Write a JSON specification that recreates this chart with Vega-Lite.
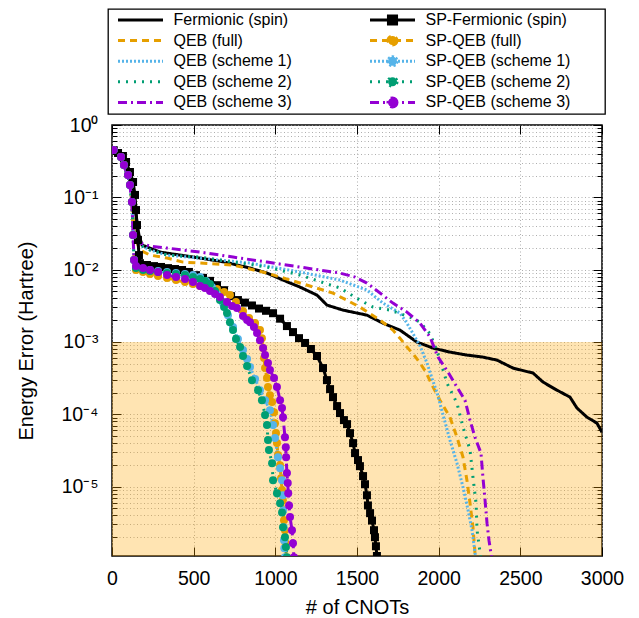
{
 "$schema": "https://vega.github.io/schema/vega-lite/v6.json",
 "width": 490, "height": 431,
 "autosize": {"type": "none"},
 "padding": {"left": 112, "top": 125, "right": 37, "bottom": 62},
 "background": "white",
 "config": {
  "font": "Liberation Sans",
  "view": {"stroke": "black", "strokeWidth": 1.5},
  "axis": {"domain": false, "labelFont": "Liberation Sans", "labelFontSize": 19.5, "labelColor": "black", "titleFont": "Liberation Sans", "titleFontSize": 20, "titleFontWeight": "normal", "titleColor": "black", "tickColor": "black", "tickWidth": 1, "gridColor": "#9a9a9a", "gridDash": [1, 2.5], "gridWidth": 0.8, "gridOpacity": 1, "labelFlush": false, "labelOverlap": false}
 },
 "datasets": {
  "curves": [
   {"s":"Fermionic (spin)","x":10,"y":0.45},{"s":"Fermionic (spin)","x":49,"y":0.35},{"s":"Fermionic (spin)","x":98,"y":0.203},{"s":"Fermionic (spin)","x":129,"y":0.126},{"s":"Fermionic (spin)","x":147,"y":0.0569},{"s":"Fermionic (spin)","x":165,"y":0.0301},{"s":"Fermionic (spin)","x":184,"y":0.0219},{"s":"Fermionic (spin)","x":294,"y":0.0175},{"s":"Fermionic (spin)","x":539,"y":0.01446},{"s":"Fermionic (spin)","x":692,"y":0.01273},{"s":"Fermionic (spin)","x":845,"y":0.01052},{"s":"Fermionic (spin)","x":949,"y":0.00897},{"s":"Fermionic (spin)","x":1047,"y":0.00718},{"s":"Fermionic (spin)","x":1151,"y":0.00574},{"s":"Fermionic (spin)","x":1255,"y":0.00445},{"s":"Fermionic (spin)","x":1316,"y":0.00324},{"s":"Fermionic (spin)","x":1414,"y":0.00276},{"s":"Fermionic (spin)","x":1561,"y":0.00235},{"s":"Fermionic (spin)","x":1659,"y":0.00182},{"s":"Fermionic (spin)","x":1763,"y":0.00146},{"s":"Fermionic (spin)","x":1867,"y":0.000997},{"s":"Fermionic (spin)","x":1965,"y":0.000824},{"s":"Fermionic (spin)","x":2069,"y":0.000725},{"s":"Fermionic (spin)","x":2173,"y":0.000659},{"s":"Fermionic (spin)","x":2271,"y":0.000618},{"s":"Fermionic (spin)","x":2357,"y":0.000562},{"s":"Fermionic (spin)","x":2455,"y":0.000436},{"s":"Fermionic (spin)","x":2578,"y":0.000372},{"s":"Fermionic (spin)","x":2639,"y":0.000279},{"s":"Fermionic (spin)","x":2724,"y":0.000216},{"s":"Fermionic (spin)","x":2804,"y":0.000173},{"s":"Fermionic (spin)","x":2847,"y":0.000122},{"s":"Fermionic (spin)","x":2908,"y":0.0000914},{"s":"Fermionic (spin)","x":2969,"y":0.0000755},{"s":"Fermionic (spin)","x":3000,"y":0.0000567},

   {"s":"QEB (full)","x":10,"y":0.45},{"s":"QEB (full)","x":55,"y":0.36},{"s":"QEB (full)","x":80,"y":0.254},{"s":"QEB (full)","x":104,"y":0.173},{"s":"QEB (full)","x":122,"y":0.092},{"s":"QEB (full)","x":135,"y":0.0414},{"s":"QEB (full)","x":147,"y":0.0257},{"s":"QEB (full)","x":171,"y":0.0187},{"s":"QEB (full)","x":233,"y":0.0159},{"s":"QEB (full)","x":337,"y":0.01446},{"s":"QEB (full)","x":435,"y":0.01273},{"s":"QEB (full)","x":539,"y":0.01233},{"s":"QEB (full)","x":741,"y":0.01158},{"s":"QEB (full)","x":949,"y":0.00897},{"s":"QEB (full)","x":1151,"y":0.00653},{"s":"QEB (full)","x":1353,"y":0.00475},{"s":"QEB (full)","x":1518,"y":0.00304},{"s":"QEB (full)","x":1641,"y":0.00201},{"s":"QEB (full)","x":1720,"y":0.00146},{"s":"QEB (full)","x":1763,"y":0.00113},{"s":"QEB (full)","x":1806,"y":0.00085},{"s":"QEB (full)","x":1849,"y":0.000659},{"s":"QEB (full)","x":1886,"y":0.000511},{"s":"QEB (full)","x":1922,"y":0.000384},{"s":"QEB (full)","x":1959,"y":0.000254},{"s":"QEB (full)","x":2008,"y":0.000157},{"s":"QEB (full)","x":2069,"y":0.0000914},{"s":"QEB (full)","x":2112,"y":0.0000484},{"s":"QEB (full)","x":2149,"y":0.0000256},{"s":"QEB (full)","x":2173,"y":0.0000123},{"s":"QEB (full)","x":2192,"y":0.0000059},{"s":"QEB (full)","x":2210,"y":0.00000275},{"s":"QEB (full)","x":2222,"y":0.00000124},{"s":"QEB (full)","x":2229,"y":0.00000096},

   {"s":"QEB (scheme 1)","x":10,"y":0.45},{"s":"QEB (scheme 1)","x":55,"y":0.36},{"s":"QEB (scheme 1)","x":80,"y":0.254},{"s":"QEB (scheme 1)","x":104,"y":0.173},{"s":"QEB (scheme 1)","x":122,"y":0.092},{"s":"QEB (scheme 1)","x":129,"y":0.0414},{"s":"QEB (scheme 1)","x":141,"y":0.0257},{"s":"QEB (scheme 1)","x":171,"y":0.0219},{"s":"QEB (scheme 1)","x":233,"y":0.0187},{"s":"QEB (scheme 1)","x":337,"y":0.0159},{"s":"QEB (scheme 1)","x":539,"y":0.01446},{"s":"QEB (scheme 1)","x":845,"y":0.01233},{"s":"QEB (scheme 1)","x":1151,"y":0.00927},{"s":"QEB (scheme 1)","x":1396,"y":0.00718},{"s":"QEB (scheme 1)","x":1561,"y":0.00522},{"s":"QEB (scheme 1)","x":1659,"y":0.00345},{"s":"QEB (scheme 1)","x":1763,"y":0.00251},{"s":"QEB (scheme 1)","x":1806,"y":0.00182},{"s":"QEB (scheme 1)","x":1886,"y":0.00088},{"s":"QEB (scheme 1)","x":1929,"y":0.00051},{"s":"QEB (scheme 1)","x":1960,"y":0.00031},{"s":"QEB (scheme 1)","x":1990,"y":0.0002},{"s":"QEB (scheme 1)","x":2026,"y":0.0001},{"s":"QEB (scheme 1)","x":2069,"y":0.000044},{"s":"QEB (scheme 1)","x":2112,"y":0.0000211},{"s":"QEB (scheme 1)","x":2149,"y":0.00000984},{"s":"QEB (scheme 1)","x":2180,"y":0.00000473},{"s":"QEB (scheme 1)","x":2204,"y":0.0000025},{"s":"QEB (scheme 1)","x":2222,"y":0.00000124},{"s":"QEB (scheme 1)","x":2229,"y":0.00000096},

   {"s":"QEB (scheme 2)","x":10,"y":0.45},{"s":"QEB (scheme 2)","x":55,"y":0.36},{"s":"QEB (scheme 2)","x":80,"y":0.254},{"s":"QEB (scheme 2)","x":104,"y":0.173},{"s":"QEB (scheme 2)","x":122,"y":0.092},{"s":"QEB (scheme 2)","x":129,"y":0.0414},{"s":"QEB (scheme 2)","x":141,"y":0.0257},{"s":"QEB (scheme 2)","x":171,"y":0.0219},{"s":"QEB (scheme 2)","x":233,"y":0.0187},{"s":"QEB (scheme 2)","x":337,"y":0.0159},{"s":"QEB (scheme 2)","x":539,"y":0.01494},{"s":"QEB (scheme 2)","x":949,"y":0.01086},{"s":"QEB (scheme 2)","x":1151,"y":0.00842},{"s":"QEB (scheme 2)","x":1396,"y":0.00557},{"s":"QEB (scheme 2)","x":1518,"y":0.0038},{"s":"QEB (scheme 2)","x":1598,"y":0.00304},{"s":"QEB (scheme 2)","x":1702,"y":0.00276},{"s":"QEB (scheme 2)","x":1824,"y":0.00221},{"s":"QEB (scheme 2)","x":1886,"y":0.00188},{"s":"QEB (scheme 2)","x":1947,"y":0.0013},{"s":"QEB (scheme 2)","x":1990,"y":0.00075},{"s":"QEB (scheme 2)","x":2026,"y":0.00042},{"s":"QEB (scheme 2)","x":2051,"y":0.00027},{"s":"QEB (scheme 2)","x":2112,"y":0.000143},{"s":"QEB (scheme 2)","x":2149,"y":0.0000665},{"s":"QEB (scheme 2)","x":2192,"y":0.000032},{"s":"QEB (scheme 2)","x":2210,"y":0.0000135},{"s":"QEB (scheme 2)","x":2229,"y":0.0000059},{"s":"QEB (scheme 2)","x":2235,"y":0.0000025},{"s":"QEB (scheme 2)","x":2253,"y":0.00000124},{"s":"QEB (scheme 2)","x":2259,"y":0.00000096},

   {"s":"QEB (scheme 3)","x":10,"y":0.45},{"s":"QEB (scheme 3)","x":55,"y":0.36},{"s":"QEB (scheme 3)","x":80,"y":0.254},{"s":"QEB (scheme 3)","x":104,"y":0.173},{"s":"QEB (scheme 3)","x":122,"y":0.092},{"s":"QEB (scheme 3)","x":129,"y":0.0414},{"s":"QEB (scheme 3)","x":141,"y":0.0257},{"s":"QEB (scheme 3)","x":171,"y":0.0233},{"s":"QEB (scheme 3)","x":233,"y":0.0212},{"s":"QEB (scheme 3)","x":337,"y":0.0199},{"s":"QEB (scheme 3)","x":539,"y":0.0175},{"s":"QEB (scheme 3)","x":741,"y":0.01494},{"s":"QEB (scheme 3)","x":949,"y":0.01273},{"s":"QEB (scheme 3)","x":1151,"y":0.01086},{"s":"QEB (scheme 3)","x":1396,"y":0.00897},{"s":"QEB (scheme 3)","x":1488,"y":0.0079},{"s":"QEB (scheme 3)","x":1561,"y":0.00653},{"s":"QEB (scheme 3)","x":1641,"y":0.00475},{"s":"QEB (scheme 3)","x":1720,"y":0.00345},{"s":"QEB (scheme 3)","x":1806,"y":0.00259},{"s":"QEB (scheme 3)","x":1886,"y":0.00182},{"s":"QEB (scheme 3)","x":1947,"y":0.00117},{"s":"QEB (scheme 3)","x":1996,"y":0.000618},{"s":"QEB (scheme 3)","x":2057,"y":0.000384},{"s":"QEB (scheme 3)","x":2112,"y":0.000238},{"s":"QEB (scheme 3)","x":2161,"y":0.000157},{"s":"QEB (scheme 3)","x":2192,"y":0.0000832},{"s":"QEB (scheme 3)","x":2222,"y":0.0000484},{"s":"QEB (scheme 3)","x":2259,"y":0.0000291},{"s":"QEB (scheme 3)","x":2271,"y":0.0000135},{"s":"QEB (scheme 3)","x":2284,"y":0.0000065},{"s":"QEB (scheme 3)","x":2296,"y":0.00000313},{"s":"QEB (scheme 3)","x":2308,"y":0.00000182},{"s":"QEB (scheme 3)","x":2320,"y":0.0000012},{"s":"QEB (scheme 3)","x":2327,"y":0.00000096},

   {"s":"SP-Fermionic (spin)","x":10,"y":0.45},{"s":"SP-Fermionic (spin)","x":37,"y":0.41},{"s":"SP-Fermionic (spin)","x":67,"y":0.373},{"s":"SP-Fermionic (spin)","x":86,"y":0.308},{"s":"SP-Fermionic (spin)","x":110,"y":0.224},{"s":"SP-Fermionic (spin)","x":129,"y":0.163},{"s":"SP-Fermionic (spin)","x":141,"y":0.108},{"s":"SP-Fermionic (spin)","x":147,"y":0.0667},{"s":"SP-Fermionic (spin)","x":153,"y":0.0414},{"s":"SP-Fermionic (spin)","x":159,"y":0.0257},{"s":"SP-Fermionic (spin)","x":165,"y":0.0159},{"s":"SP-Fermionic (spin)","x":171,"y":0.0123},{"s":"SP-Fermionic (spin)","x":214,"y":0.0116},{"s":"SP-Fermionic (spin)","x":257,"y":0.0112},{"s":"SP-Fermionic (spin)","x":300,"y":0.0109},{"s":"SP-Fermionic (spin)","x":343,"y":0.0105},{"s":"SP-Fermionic (spin)","x":386,"y":0.0102},{"s":"SP-Fermionic (spin)","x":429,"y":0.0099},{"s":"SP-Fermionic (spin)","x":471,"y":0.0093},{"s":"SP-Fermionic (spin)","x":514,"y":0.0084},{"s":"SP-Fermionic (spin)","x":557,"y":0.0077},{"s":"SP-Fermionic (spin)","x":600,"y":0.007},{"s":"SP-Fermionic (spin)","x":643,"y":0.0061},{"s":"SP-Fermionic (spin)","x":686,"y":0.0052},{"s":"SP-Fermionic (spin)","x":729,"y":0.0043},{"s":"SP-Fermionic (spin)","x":771,"y":0.0038},{"s":"SP-Fermionic (spin)","x":814,"y":0.0035},{"s":"SP-Fermionic (spin)","x":857,"y":0.0032},{"s":"SP-Fermionic (spin)","x":900,"y":0.0029},{"s":"SP-Fermionic (spin)","x":943,"y":0.0027},{"s":"SP-Fermionic (spin)","x":986,"y":0.0025},{"s":"SP-Fermionic (spin)","x":1029,"y":0.0021},{"s":"SP-Fermionic (spin)","x":1071,"y":0.00166},{"s":"SP-Fermionic (spin)","x":1108,"y":0.00137},{"s":"SP-Fermionic (spin)","x":1145,"y":0.00113},{"s":"SP-Fermionic (spin)","x":1182,"y":0.00097},{"s":"SP-Fermionic (spin)","x":1218,"y":0.0008},{"s":"SP-Fermionic (spin)","x":1255,"y":0.00064},{"s":"SP-Fermionic (spin)","x":1292,"y":0.000436},{"s":"SP-Fermionic (spin)","x":1316,"y":0.000297},{"s":"SP-Fermionic (spin)","x":1335,"y":0.000223},{"s":"SP-Fermionic (spin)","x":1353,"y":0.000173},{"s":"SP-Fermionic (spin)","x":1378,"y":0.00013},{"s":"SP-Fermionic (spin)","x":1396,"y":0.000104},{"s":"SP-Fermionic (spin)","x":1420,"y":0.0000832},{"s":"SP-Fermionic (spin)","x":1439,"y":0.0000732},{"s":"SP-Fermionic (spin)","x":1457,"y":0.0000549},{"s":"SP-Fermionic (spin)","x":1476,"y":0.00004},{"s":"SP-Fermionic (spin)","x":1488,"y":0.0000291},{"s":"SP-Fermionic (spin)","x":1506,"y":0.0000233},{"s":"SP-Fermionic (spin)","x":1518,"y":0.0000192},{"s":"SP-Fermionic (spin)","x":1537,"y":0.000014},{"s":"SP-Fermionic (spin)","x":1549,"y":0.0000108},{"s":"SP-Fermionic (spin)","x":1561,"y":0.0000076},{"s":"SP-Fermionic (spin)","x":1567,"y":0.0000055},{"s":"SP-Fermionic (spin)","x":1580,"y":0.0000043},{"s":"SP-Fermionic (spin)","x":1592,"y":0.0000034},{"s":"SP-Fermionic (spin)","x":1604,"y":0.0000025},{"s":"SP-Fermionic (spin)","x":1610,"y":0.000002},{"s":"SP-Fermionic (spin)","x":1616,"y":0.0000015},{"s":"SP-Fermionic (spin)","x":1622,"y":0.0000011},

   {"s":"SP-QEB (full)","x":10,"y":0.45},{"s":"SP-QEB (full)","x":55,"y":0.361},{"s":"SP-QEB (full)","x":73,"y":0.28},{"s":"SP-QEB (full)","x":98,"y":0.203},{"s":"SP-QEB (full)","x":110,"y":0.148},{"s":"SP-QEB (full)","x":122,"y":0.0861},{"s":"SP-QEB (full)","x":129,"y":0.0301},{"s":"SP-QEB (full)","x":135,"y":0.0136},{"s":"SP-QEB (full)","x":147,"y":0.00987},{"s":"SP-QEB (full)","x":190,"y":0.00927},{"s":"SP-QEB (full)","x":233,"y":0.00869},{"s":"SP-QEB (full)","x":282,"y":0.00816},{"s":"SP-QEB (full)","x":337,"y":0.00765},{"s":"SP-QEB (full)","x":392,"y":0.00718},{"s":"SP-QEB (full)","x":447,"y":0.00674},{"s":"SP-QEB (full)","x":496,"y":0.00632},{"s":"SP-QEB (full)","x":539,"y":0.00593},{"s":"SP-QEB (full)","x":588,"y":0.00557},{"s":"SP-QEB (full)","x":643,"y":0.00539},{"s":"SP-QEB (full)","x":686,"y":0.0049},{"s":"SP-QEB (full)","x":722,"y":0.00445},{"s":"SP-QEB (full)","x":759,"y":0.00356},{"s":"SP-QEB (full)","x":802,"y":0.00268},{"s":"SP-QEB (full)","x":839,"y":0.00214},{"s":"SP-QEB (full)","x":876,"y":0.00183},{"s":"SP-QEB (full)","x":906,"y":0.00146},{"s":"SP-QEB (full)","x":918,"y":0.00113},{"s":"SP-QEB (full)","x":925,"y":0.000824},{"s":"SP-QEB (full)","x":931,"y":0.000599},{"s":"SP-QEB (full)","x":937,"y":0.000436},{"s":"SP-QEB (full)","x":949,"y":0.000317},{"s":"SP-QEB (full)","x":955,"y":0.000238},{"s":"SP-QEB (full)","x":967,"y":0.000184},{"s":"SP-QEB (full)","x":980,"y":0.000148},{"s":"SP-QEB (full)","x":992,"y":0.000107},{"s":"SP-QEB (full)","x":998,"y":0.000075},{"s":"SP-QEB (full)","x":1004,"y":0.000055},{"s":"SP-QEB (full)","x":1010,"y":0.00004},{"s":"SP-QEB (full)","x":1016,"y":0.0000273},{"s":"SP-QEB (full)","x":1029,"y":0.0000198},{"s":"SP-QEB (full)","x":1035,"y":0.0000131},{"s":"SP-QEB (full)","x":1041,"y":0.000009},{"s":"SP-QEB (full)","x":1046,"y":0.0000065},{"s":"SP-QEB (full)","x":1048,"y":0.0000047},{"s":"SP-QEB (full)","x":1053,"y":0.00000344},{"s":"SP-QEB (full)","x":1059,"y":0.0000025},{"s":"SP-QEB (full)","x":1063,"y":0.00000165},{"s":"SP-QEB (full)","x":1066,"y":0.00000106},

   {"s":"SP-QEB (scheme 1)","x":10,"y":0.45},{"s":"SP-QEB (scheme 1)","x":55,"y":0.361},{"s":"SP-QEB (scheme 1)","x":73,"y":0.28},{"s":"SP-QEB (scheme 1)","x":98,"y":0.203},{"s":"SP-QEB (scheme 1)","x":110,"y":0.148},{"s":"SP-QEB (scheme 1)","x":122,"y":0.0861},{"s":"SP-QEB (scheme 1)","x":129,"y":0.0301},{"s":"SP-QEB (scheme 1)","x":135,"y":0.0136},{"s":"SP-QEB (scheme 1)","x":147,"y":0.01086},{"s":"SP-QEB (scheme 1)","x":190,"y":0.01019},{"s":"SP-QEB (scheme 1)","x":233,"y":0.00987},{"s":"SP-QEB (scheme 1)","x":282,"y":0.00956},{"s":"SP-QEB (scheme 1)","x":337,"y":0.00927},{"s":"SP-QEB (scheme 1)","x":392,"y":0.00897},{"s":"SP-QEB (scheme 1)","x":447,"y":0.00869},{"s":"SP-QEB (scheme 1)","x":496,"y":0.00842},{"s":"SP-QEB (scheme 1)","x":539,"y":0.0079},{"s":"SP-QEB (scheme 1)","x":576,"y":0.00696},{"s":"SP-QEB (scheme 1)","x":612,"y":0.00574},{"s":"SP-QEB (scheme 1)","x":643,"y":0.0046},{"s":"SP-QEB (scheme 1)","x":680,"y":0.00345},{"s":"SP-QEB (scheme 1)","x":710,"y":0.00235},{"s":"SP-QEB (scheme 1)","x":741,"y":0.00161},{"s":"SP-QEB (scheme 1)","x":771,"y":0.0011},{"s":"SP-QEB (scheme 1)","x":802,"y":0.000773},{"s":"SP-QEB (scheme 1)","x":827,"y":0.000581},{"s":"SP-QEB (scheme 1)","x":845,"y":0.00045},{"s":"SP-QEB (scheme 1)","x":876,"y":0.000307},{"s":"SP-QEB (scheme 1)","x":906,"y":0.000216},{"s":"SP-QEB (scheme 1)","x":937,"y":0.000157},{"s":"SP-QEB (scheme 1)","x":967,"y":0.000114},{"s":"SP-QEB (scheme 1)","x":986,"y":0.000071},{"s":"SP-QEB (scheme 1)","x":998,"y":0.0000469},{"s":"SP-QEB (scheme 1)","x":1016,"y":0.0000256},{"s":"SP-QEB (scheme 1)","x":1029,"y":0.000018},{"s":"SP-QEB (scheme 1)","x":1041,"y":0.0000123},{"s":"SP-QEB (scheme 1)","x":1046,"y":0.0000076},{"s":"SP-QEB (scheme 1)","x":1048,"y":0.0000047},{"s":"SP-QEB (scheme 1)","x":1051,"y":0.00000275},{"s":"SP-QEB (scheme 1)","x":1053,"y":0.00000182},{"s":"SP-QEB (scheme 1)","x":1055,"y":0.00000141},{"s":"SP-QEB (scheme 1)","x":1059,"y":0.00000106},

   {"s":"SP-QEB (scheme 2)","x":10,"y":0.45},{"s":"SP-QEB (scheme 2)","x":55,"y":0.361},{"s":"SP-QEB (scheme 2)","x":73,"y":0.28},{"s":"SP-QEB (scheme 2)","x":98,"y":0.203},{"s":"SP-QEB (scheme 2)","x":110,"y":0.148},{"s":"SP-QEB (scheme 2)","x":122,"y":0.0861},{"s":"SP-QEB (scheme 2)","x":129,"y":0.0301},{"s":"SP-QEB (scheme 2)","x":135,"y":0.0136},{"s":"SP-QEB (scheme 2)","x":147,"y":0.01052},{"s":"SP-QEB (scheme 2)","x":190,"y":0.00987},{"s":"SP-QEB (scheme 2)","x":233,"y":0.00956},{"s":"SP-QEB (scheme 2)","x":282,"y":0.00927},{"s":"SP-QEB (scheme 2)","x":337,"y":0.00897},{"s":"SP-QEB (scheme 2)","x":392,"y":0.00869},{"s":"SP-QEB (scheme 2)","x":447,"y":0.00842},{"s":"SP-QEB (scheme 2)","x":496,"y":0.0079},{"s":"SP-QEB (scheme 2)","x":539,"y":0.00741},{"s":"SP-QEB (scheme 2)","x":569,"y":0.00696},{"s":"SP-QEB (scheme 2)","x":600,"y":0.00632},{"s":"SP-QEB (scheme 2)","x":631,"y":0.00506},{"s":"SP-QEB (scheme 2)","x":661,"y":0.0038},{"s":"SP-QEB (scheme 2)","x":686,"y":0.00304},{"s":"SP-QEB (scheme 2)","x":704,"y":0.00251},{"s":"SP-QEB (scheme 2)","x":722,"y":0.00188},{"s":"SP-QEB (scheme 2)","x":741,"y":0.00146},{"s":"SP-QEB (scheme 2)","x":759,"y":0.0011},{"s":"SP-QEB (scheme 2)","x":784,"y":0.00085},{"s":"SP-QEB (scheme 2)","x":802,"y":0.000638},{"s":"SP-QEB (scheme 2)","x":827,"y":0.000465},{"s":"SP-QEB (scheme 2)","x":857,"y":0.000297},{"s":"SP-QEB (scheme 2)","x":894,"y":0.000216},{"s":"SP-QEB (scheme 2)","x":918,"y":0.000157},{"s":"SP-QEB (scheme 2)","x":937,"y":0.0000975},{"s":"SP-QEB (scheme 2)","x":949,"y":0.000071},{"s":"SP-QEB (scheme 2)","x":955,"y":0.000044},{"s":"SP-QEB (scheme 2)","x":961,"y":0.000032},{"s":"SP-QEB (scheme 2)","x":980,"y":0.0000211},{"s":"SP-QEB (scheme 2)","x":986,"y":0.0000123},{"s":"SP-QEB (scheme 2)","x":1010,"y":0.0000081},{"s":"SP-QEB (scheme 2)","x":1029,"y":0.0000059},{"s":"SP-QEB (scheme 2)","x":1041,"y":0.0000044},{"s":"SP-QEB (scheme 2)","x":1047,"y":0.00000275},{"s":"SP-QEB (scheme 2)","x":1059,"y":0.000002},{"s":"SP-QEB (scheme 2)","x":1065,"y":0.00000146},{"s":"SP-QEB (scheme 2)","x":1071,"y":0.00000106},

   {"s":"SP-QEB (scheme 3)","x":10,"y":0.45},{"s":"SP-QEB (scheme 3)","x":55,"y":0.361},{"s":"SP-QEB (scheme 3)","x":73,"y":0.28},{"s":"SP-QEB (scheme 3)","x":98,"y":0.203},{"s":"SP-QEB (scheme 3)","x":110,"y":0.148},{"s":"SP-QEB (scheme 3)","x":122,"y":0.0861},{"s":"SP-QEB (scheme 3)","x":129,"y":0.0301},{"s":"SP-QEB (scheme 3)","x":135,"y":0.0136},{"s":"SP-QEB (scheme 3)","x":147,"y":0.01122},{"s":"SP-QEB (scheme 3)","x":190,"y":0.01052},{"s":"SP-QEB (scheme 3)","x":233,"y":0.00987},{"s":"SP-QEB (scheme 3)","x":282,"y":0.00927},{"s":"SP-QEB (scheme 3)","x":337,"y":0.00842},{"s":"SP-QEB (scheme 3)","x":392,"y":0.0079},{"s":"SP-QEB (scheme 3)","x":447,"y":0.00741},{"s":"SP-QEB (scheme 3)","x":496,"y":0.00674},{"s":"SP-QEB (scheme 3)","x":539,"y":0.00593},{"s":"SP-QEB (scheme 3)","x":569,"y":0.00557},{"s":"SP-QEB (scheme 3)","x":600,"y":0.00506},{"s":"SP-QEB (scheme 3)","x":631,"y":0.0046},{"s":"SP-QEB (scheme 3)","x":661,"y":0.00418},{"s":"SP-QEB (scheme 3)","x":704,"y":0.00356},{"s":"SP-QEB (scheme 3)","x":735,"y":0.00314},{"s":"SP-QEB (scheme 3)","x":765,"y":0.00294},{"s":"SP-QEB (scheme 3)","x":802,"y":0.00228},{"s":"SP-QEB (scheme 3)","x":827,"y":0.00201},{"s":"SP-QEB (scheme 3)","x":845,"y":0.00188},{"s":"SP-QEB (scheme 3)","x":869,"y":0.00161},{"s":"SP-QEB (scheme 3)","x":888,"y":0.00133},{"s":"SP-QEB (scheme 3)","x":906,"y":0.00106},{"s":"SP-QEB (scheme 3)","x":925,"y":0.000824},{"s":"SP-QEB (scheme 3)","x":937,"y":0.000659},{"s":"SP-QEB (scheme 3)","x":955,"y":0.000511},{"s":"SP-QEB (scheme 3)","x":967,"y":0.000409},{"s":"SP-QEB (scheme 3)","x":992,"y":0.000317},{"s":"SP-QEB (scheme 3)","x":1010,"y":0.000238},{"s":"SP-QEB (scheme 3)","x":1029,"y":0.000157},{"s":"SP-QEB (scheme 3)","x":1041,"y":0.000122},{"s":"SP-QEB (scheme 3)","x":1047,"y":0.0000914},{"s":"SP-QEB (scheme 3)","x":1059,"y":0.0000484},{"s":"SP-QEB (scheme 3)","x":1064,"y":0.0000352},{"s":"SP-QEB (scheme 3)","x":1066,"y":0.0000256},{"s":"SP-QEB (scheme 3)","x":1071,"y":0.0000154},{"s":"SP-QEB (scheme 3)","x":1076,"y":0.0000112},{"s":"SP-QEB (scheme 3)","x":1079,"y":0.0000081},{"s":"SP-QEB (scheme 3)","x":1084,"y":0.0000055},{"s":"SP-QEB (scheme 3)","x":1090,"y":0.0000038},{"s":"SP-QEB (scheme 3)","x":1102,"y":0.0000025},{"s":"SP-QEB (scheme 3)","x":1108,"y":0.00000165},{"s":"SP-QEB (scheme 3)","x":1114,"y":0.00000106}
  ]
 },
 "layer": [
  {
   "data": {"values": [{}]},
   "mark": {"type": "rect", "color": "#FFA500", "opacity": 0.3},
   "encoding": {
    "x": {"datum": 0, "type": "quantitative", "scale": {"domain": [0, 3000], "nice": false, "zero": false},
          "axis": {"orient": "bottom", "title": "# of CNOTs", "format": "d", "values": [0, 500, 1000, 1500, 2000, 2500, 3000], "tickSize": -9, "labelPadding": 22, "titlePadding": 10, "grid": true}},
    "x2": {"datum": 3000},
    "y": {"datum": 0.001, "type": "quantitative", "scale": {"type": "log", "domain": [0.0000011, 1], "nice": false},
          "axis": {"orient": "left", "title": "Energy Error (Hartree)", "grid": true,
                   "values": [1,0.9,0.8,0.7,0.6,0.5,0.4,0.3,0.2,0.1,0.09,0.08,0.07,0.06,0.05,0.04,0.03,0.02,0.01,0.009,0.008,0.007,0.006,0.005,0.004,0.003,0.002,0.001,0.0009,0.0008,0.0007,0.0006,0.0005,0.0004,0.0003,0.0002,0.0001,0.00009,0.00008,0.00007,0.00006,0.00005,0.00004,0.00003,0.00002,0.00001,0.000009,0.000008,0.000007,0.000006,0.000005,0.000004,0.000003,0.000002],
                   "labelExpr": "abs(log(datum.value)/LN10 - round(log(datum.value)/LN10)) > 0.01 ? '' : datum.value > 0.5 ? '10⁰' : datum.value > 0.05 ? '10⁻¹' : datum.value > 0.005 ? '10⁻²' : datum.value > 0.0005 ? '10⁻³' : datum.value > 0.00005 ? '10⁻⁴' : '10⁻⁵'",
                   "tickSize": {"condition": {"test": "abs(log(datum.value)/LN10 - round(log(datum.value)/LN10)) < 0.01", "value": -9}, "value": -5},
                   "labelPadding": 23, "titlePadding": 24}},
    "y2": {"datum": 0.0000011}
   }
  },
  {
   "data": {"name": "curves"},
   "mark": {"type": "line", "strokeWidth": 3, "clip": true},
   "encoding": {
    "x": {"field": "x", "type": "quantitative", "scale": {"domain": [0, 3000], "nice": false, "zero": false},
          "axis": {"orient": "top", "labels": false, "title": null, "grid": false, "values": [0, 500, 1000, 1500, 2000, 2500, 3000], "tickSize": -9}},
    "y": {"field": "y", "type": "quantitative", "scale": {"type": "log", "domain": [0.0000011, 1], "nice": false},
          "axis": {"orient": "right", "labels": false, "title": null, "grid": false,
                   "values": [1,0.9,0.8,0.7,0.6,0.5,0.4,0.3,0.2,0.1,0.09,0.08,0.07,0.06,0.05,0.04,0.03,0.02,0.01,0.009,0.008,0.007,0.006,0.005,0.004,0.003,0.002,0.001,0.0009,0.0008,0.0007,0.0006,0.0005,0.0004,0.0003,0.0002,0.0001,0.00009,0.00008,0.00007,0.00006,0.00005,0.00004,0.00003,0.00002,0.00001,0.000009,0.000008,0.000007,0.000006,0.000005,0.000004,0.000003,0.000002],
                   "tickSize": {"condition": {"test": "abs(log(datum.value)/LN10 - round(log(datum.value)/LN10)) < 0.01", "value": -9}, "value": -5}}},
    "color": {"field": "s", "type": "nominal",
              "scale": {"domain": ["Fermionic (spin)","QEB (full)","QEB (scheme 1)","QEB (scheme 2)","QEB (scheme 3)","SP-Fermionic (spin)","SP-QEB (full)","SP-QEB (scheme 1)","SP-QEB (scheme 2)","SP-QEB (scheme 3)"],
                        "range": ["#000000","#E69F00","#56B4E9","#009E73","#9400D3","#000000","#E69F00","#56B4E9","#009E73","#9400D3"]},
              "legend": {"orient": "none", "legendX": -4, "legendY": -116, "direction": "vertical", "columns": 2, "columnPadding": 71, "rowPadding": 4.6, "clipHeight": 16,
                         "title": null, "padding": 3, "strokeColor": "black", "fillColor": "white",
                         "symbolType": "stroke", "symbolSize": 2025, "symbolStrokeWidth": 3, "symbolOffset": 5.5, "labelOffset": 9,
                         "labelFont": "Liberation Sans", "labelFontSize": 16, "labelColor": "black", "labelLimit": 400,
                         "labelExpr": "indexof(datum.label, 'SP-') === 0 ? datum.label + '\u00a0\u00a0\u00a0\u00a0\u00a0\u00a0\u00a0\u200b' : datum.label",
                         "encode": {
                           "legend": {"update": {"strokeWidth": {"value": 1.3}}},
                           "symbols": {"update": {
                           "shape": {"signal": "indexof(datum.value,'SP-Fermionic') === 0 ? 'M-1,0H1M-0.18,-0.18H0.18V0.18H-0.18Z' : indexof(datum.value,'SP-') === 0 ? 'M-1,0H1M0.2,0A0.2,0.2,0,1,1,-0.2,0A0.2,0.2,0,1,1,0.2,0Z' : 'stroke'"},
                           "fill": {"signal": "indexof(datum.value,'SP-') === 0 ? scale('color', datum.value) : 'transparent'"},
                           "stroke": {"signal": "scale('color', datum.value)"},
                           "strokeDash": {"signal": "scale('strokeDash', datum.value)"},
                           "strokeWidth": {"value": 3},
                           "opacity": {"value": 1}
                         }}}}},
    "strokeDash": {"field": "s", "type": "nominal",
                   "scale": {"domain": ["Fermionic (spin)","QEB (full)","QEB (scheme 1)","QEB (scheme 2)","QEB (scheme 3)","SP-Fermionic (spin)","SP-QEB (full)","SP-QEB (scheme 1)","SP-QEB (scheme 2)","SP-QEB (scheme 3)"],
                             "range": [[1,0],[7,5],[2,2],[2,6],[9,4,2,4],[1,0],[7,5],[2,2],[2,6],[9,4,2,4]]},
                   "legend": null}
   }
  },
  {
   "data": {"name": "curves"},
   "transform": [{"filter": "indexof(datum.s, 'SP-') === 0"}],
   "mark": {"type": "point", "filled": true, "size": 64, "opacity": 1, "clip": true},
   "encoding": {
    "x": {"field": "x", "type": "quantitative", "scale": {"domain": [0, 3000], "nice": false, "zero": false}, "axis": null},
    "y": {"field": "y", "type": "quantitative", "scale": {"type": "log", "domain": [0.0000011, 1], "nice": false}, "axis": null},
    "color": {"field": "s", "type": "nominal",
              "scale": {"domain": ["Fermionic (spin)","QEB (full)","QEB (scheme 1)","QEB (scheme 2)","QEB (scheme 3)","SP-Fermionic (spin)","SP-QEB (full)","SP-QEB (scheme 1)","SP-QEB (scheme 2)","SP-QEB (scheme 3)"],
                        "range": ["#000000","#E69F00","#56B4E9","#009E73","#9400D3","#000000","#E69F00","#56B4E9","#009E73","#9400D3"]},
              "legend": null},
    "shape": {"field": "s", "type": "nominal",
              "scale": {"domain": ["SP-Fermionic (spin)","SP-QEB (full)","SP-QEB (scheme 1)","SP-QEB (scheme 2)","SP-QEB (scheme 3)"],
                        "range": ["square","circle","circle","circle","circle"]},
              "legend": null}
   }
  }
 ],
 "resolve": {"axis": {"x": "independent", "y": "independent"}}
}
